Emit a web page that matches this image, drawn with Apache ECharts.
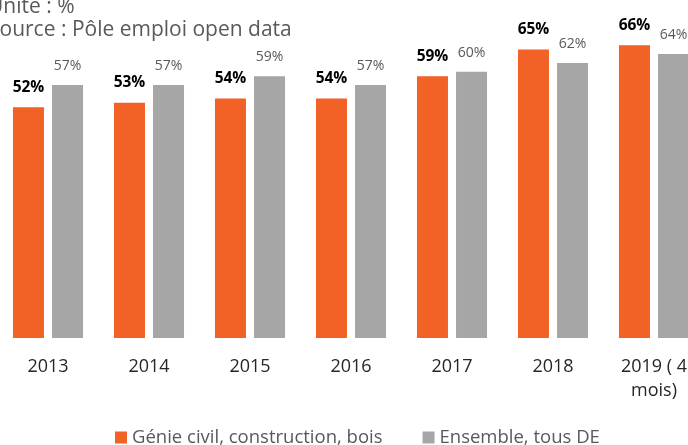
<!DOCTYPE html>
<html>
<head>
<meta charset="utf-8">
<script src="https://cdn.jsdelivr.net/npm/echarts@6/dist/echarts.min.js"></script>
<style>
  html, body { margin: 0; padding: 0; background: #fff; overflow: hidden; }
  #wrap { position: relative; width: 688px; height: 445px; overflow: hidden; }
  #chart { position: absolute; left: -20px; top: -20px; width: 740px; height: 465px; }
</style>
</head>
<body>
<div id="wrap"><div id="chart"></div></div>
<script>
// Part des demandeurs d'emploi (%), par année
const years = ['2013', '2014', '2015', '2016', '2017', '2018', '2019 ( 4\nmois)'];
const genieCivil = [52, 53, 54, 54, 59, 65, 66];
const ensemble = [57, 57, 59, 57, 60, 62, 64];
const seriesNames = ['Génie civil, construction, bois', 'Ensemble, tous DE'];

const font = '"Open Sans", "Noto Sans", sans-serif';
const chart = echarts.init(document.getElementById('chart'));

chart.setOption({
  animation: false,
  textStyle: { fontFamily: font },
  title: {
    text: 'Unité : %\nSource : Pôle emploi open data',
    left: 8,
    top: 16,
    padding: 0,
    textStyle: { fontFamily: font, fontSize: 21, fontWeight: 'normal', color: '#595959', lineHeight: 23 }
  },
  legend: {
    left: 135,
    top: 448,
    padding: 0,
    itemWidth: 12,
    itemHeight: 12,
    itemGap: 40,
    icon: 'rect',
    textStyle: { fontFamily: font, fontSize: 18.5, color: '#595959' },
    data: seriesNames
  },
  grid: { left: 17.5, right: 15.5, top: 3, bottom: 107, containLabel: false },
  xAxis: {
    type: 'category',
    data: years,
    axisLine: { show: false },
    axisTick: { show: false },
    axisLabel: { fontFamily: font, fontSize: 18, color: '#262626', margin: 17, lineHeight: 24, interval: 0 }
  },
  yAxis: {
    type: 'value',
    min: 0,
    max: 80,
    show: false,
    splitLine: { show: false }
  },
  series: [
    {
      name: seriesNames[0],
      type: 'bar',
      data: genieCivil,
      barWidth: 31,
      barGap: '26%',
      itemStyle: { color: '#F26125' },
      label: {
        show: true,
        position: 'top',
        distance: 12,
        formatter: '{c}%',
        fontFamily: font,
        fontSize: 15.5,
        fontWeight: 'bold',
        color: '#000'
      }
    },
    {
      name: seriesNames[1],
      type: 'bar',
      data: ensemble,
      barWidth: 31,
      itemStyle: { color: '#A6A6A6' },
      label: {
        show: true,
        position: 'top',
        distance: 12,
        formatter: '{c}%',
        fontFamily: font,
        fontSize: 14,
        color: '#595959'
      }
    }
  ]
});
</script>
</body>
</html>
